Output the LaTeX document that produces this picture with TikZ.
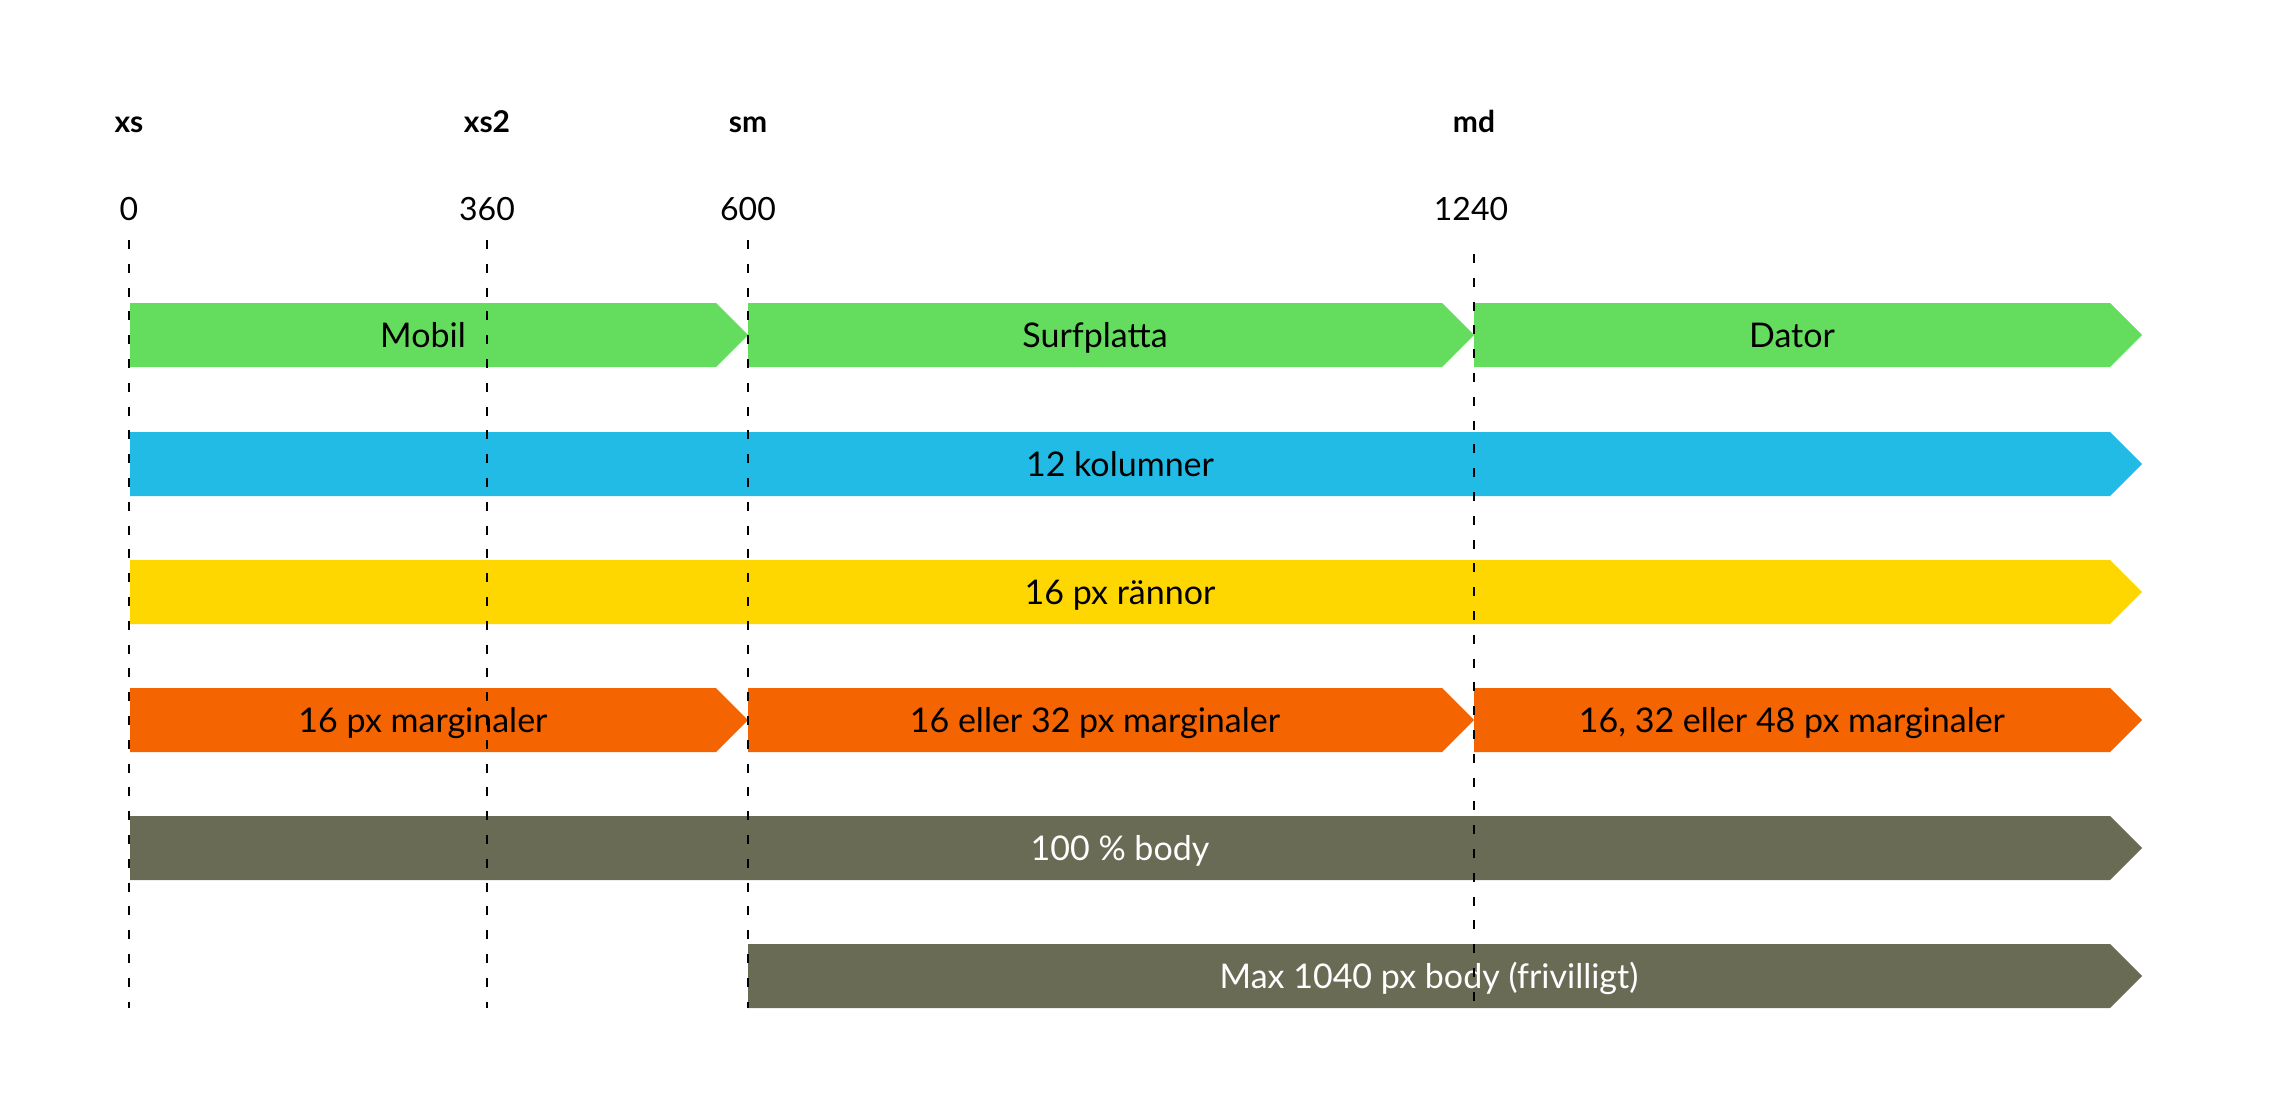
\documentclass[tikz,border=0pt]{standalone}
\usepackage{fontspec}
\setmainfont{Lato}
\definecolor{cgreen}{RGB}{100,220,94}
\definecolor{cblue}{RGB}{34,187,230}
\definecolor{cyellow}{RGB}{255,215,0}
\definecolor{corange}{RGB}{244,100,0}
\definecolor{cgray}{RGB}{106,107,85}
\newcommand\arrowbar[5]{% start x, tip x, center y, colour, name+text
  \fill[#4] (#1,#3-32) -- (#2-32,#3-32) -- (#2,#3) -- (#2-32,#3+32) -- (#1,#3+32) -- cycle;
  #5}
\begin{document}
\begin{tikzpicture}[x=1pt,y=-1pt,
  barlbl/.style={font=\fontsize{34}{40}\selectfont, text=black, inner sep=0pt, anchor=base},
  barlblw/.style={barlbl, text=white},
  bplabel/.style={font=\fontsize{30}{36}\selectfont\bfseries, inner sep=0pt, anchor=base},
  numlabel/.style={font=\fontsize{32}{38}\selectfont, inner sep=0pt, anchor=base},
  guide/.style={line width=2.2pt, dash pattern=on 9pt off 14.8pt}]
\useasboundingbox (0,0) rectangle (2272,1104);
% breakpoint labels
\node[bplabel] (lxs)  at (129,132) {xs};
\node[bplabel] (lxs2) at (487,132) {xs2};
\node[bplabel] (lsm)  at (748,132) {sm};
\node[bplabel] (lmd)  at (1474,132) {md};
\node[numlabel] (n0)    at (129,220) {0};
\node[numlabel] (n360)  at (487,220) {360};
\node[numlabel] (n600)  at (748,220) {600};
\node[numlabel] (n1240) at (1471,220) {1240};
% row 1
\arrowbar{130}{748}{335}{cgreen}{\node[barlbl] (mobil) at (423,347) {Mobil};}
\arrowbar{748}{1474}{335}{cgreen}{\node[barlbl] (surf) at (1095,347) {Surfplatta};}
\arrowbar{1474}{2142}{335}{cgreen}{\node[barlbl] (dator) at (1792,347) {Dator};}
% row 2
\arrowbar{130}{2142}{464}{cblue}{\node[barlbl] (kol) at (1120,476) {12 kolumner};}
% row 3
\arrowbar{130}{2142}{592}{cyellow}{\node[barlbl] (ran) at (1120,604) {16 px rännor};}
% row 4
\arrowbar{130}{748}{720}{corange}{\node[barlbl] (m1) at (423,732) {16 px marginaler};}
\arrowbar{748}{1474}{720}{corange}{\node[barlbl] (m2) at (1095,732) {16 eller 32 px marginaler};}
\arrowbar{1474}{2142}{720}{corange}{\node[barlbl] (m3) at (1792,732) {16, 32 eller 48 px marginaler};}
% row 5
\arrowbar{130}{2142}{848}{cgray}{\node[barlblw] (body) at (1120,860) {100 \% body};}
% row 6
\arrowbar{748}{2142}{976}{cgray}{\node[barlblw] (maxbody) at (1429,988) {Max 1040 px body (frivilligt)};}
% guides
\coordinate (g0t) at (129,240);  \coordinate (g0b) at (129,1008);
\coordinate (g1t) at (487,240);  \coordinate (g1b) at (487,1008);
\coordinate (g2t) at (748,240);  \coordinate (g2b) at (748,1008);
\coordinate (g3t) at (1474,254); \coordinate (g3b) at (1474,1008);
\draw[guide] (g0t) -- (g0b);
\draw[guide] (g1t) -- (g1b);
\draw[guide] (g2t) -- (g2b);
\draw[guide] (g3t) -- (g3b);
\end{tikzpicture}
\end{document}
